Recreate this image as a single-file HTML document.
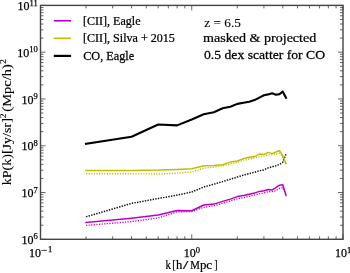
<!DOCTYPE html><html><head><meta charset="utf-8"><style>html,body{margin:0;padding:0;background:#fff;width:350px;height:273px;overflow:hidden}svg{display:block;filter:blur(0.3px)}text{font-family:"Liberation Serif",serif;fill:#000;stroke:#000;stroke-width:0.25px;filter:grayscale(1)}</style></head><body>
<svg width="350" height="273" viewBox="0 0 350 273">
<path d="M40.50,239.3v-5M40.50,5.4v5M86.03,239.3v-3M86.03,5.4v3M112.66,239.3v-3M112.66,5.4v3M131.56,239.3v-3M131.56,5.4v3M146.22,239.3v-3M146.22,5.4v3M158.20,239.3v-3M158.20,5.4v3M168.32,239.3v-3M168.32,5.4v3M177.09,239.3v-3M177.09,5.4v3M184.83,239.3v-3M184.83,5.4v3M191.75,239.3v-5M191.75,5.4v5M237.28,239.3v-3M237.28,5.4v3M263.91,239.3v-3M263.91,5.4v3M282.81,239.3v-3M282.81,5.4v3M297.47,239.3v-3M297.47,5.4v3M309.45,239.3v-3M309.45,5.4v3M319.57,239.3v-3M319.57,5.4v3M328.34,239.3v-3M328.34,5.4v3M336.08,239.3v-3M336.08,5.4v3M343.00,239.3v-5M343.00,5.4v5M40.5,239.30h5M343.0,239.30h-5M40.5,225.22h3M343.0,225.22h-3M40.5,216.98h3M343.0,216.98h-3M40.5,211.14h3M343.0,211.14h-3M40.5,206.60h3M343.0,206.60h-3M40.5,202.90h3M343.0,202.90h-3M40.5,199.77h3M343.0,199.77h-3M40.5,197.05h3M343.0,197.05h-3M40.5,194.66h3M343.0,194.66h-3M40.5,192.52h5M343.0,192.52h-5M40.5,178.44h3M343.0,178.44h-3M40.5,170.20h3M343.0,170.20h-3M40.5,164.36h3M343.0,164.36h-3M40.5,159.82h3M343.0,159.82h-3M40.5,156.12h3M343.0,156.12h-3M40.5,152.99h3M343.0,152.99h-3M40.5,150.27h3M343.0,150.27h-3M40.5,147.88h3M343.0,147.88h-3M40.5,145.74h5M343.0,145.74h-5M40.5,131.66h3M343.0,131.66h-3M40.5,123.42h3M343.0,123.42h-3M40.5,117.58h3M343.0,117.58h-3M40.5,113.04h3M343.0,113.04h-3M40.5,109.34h3M343.0,109.34h-3M40.5,106.21h3M343.0,106.21h-3M40.5,103.49h3M343.0,103.49h-3M40.5,101.10h3M343.0,101.10h-3M40.5,98.96h5M343.0,98.96h-5M40.5,84.88h3M343.0,84.88h-3M40.5,76.64h3M343.0,76.64h-3M40.5,70.80h3M343.0,70.80h-3M40.5,66.26h3M343.0,66.26h-3M40.5,62.56h3M343.0,62.56h-3M40.5,59.43h3M343.0,59.43h-3M40.5,56.71h3M343.0,56.71h-3M40.5,54.32h3M343.0,54.32h-3M40.5,52.18h5M343.0,52.18h-5M40.5,38.10h3M343.0,38.10h-3M40.5,29.86h3M343.0,29.86h-3M40.5,24.02h3M343.0,24.02h-3M40.5,19.48h3M343.0,19.48h-3M40.5,15.78h3M343.0,15.78h-3M40.5,12.65h3M343.0,12.65h-3M40.5,9.93h3M343.0,9.93h-3M40.5,7.54h3M343.0,7.54h-3M40.5,5.40h5M343.0,5.40h-5" stroke="#555" stroke-width="0.9" fill="none"/>
<polyline points="86.03,225.40 131.56,221.60 158.20,218.00 177.09,211.90 191.75,211.50 203.73,207.30 213.85,205.80 222.62,203.30 230.36,201.00 237.28,198.80 243.54,197.70 249.26,196.30 254.51,195.00 259.38,193.80 263.91,192.80 268.15,191.80 272.14,191.60 275.89,190.70 279.44,188.50 282.81,187.60 286.02,194.80" fill="none" stroke="#bf00bf" stroke-width="1.35" stroke-dasharray="1.2 1.4"/>
<polyline points="86.03,173.70 131.56,173.80 158.20,174.00 177.09,173.20 191.75,171.90 203.73,168.20 213.85,167.10 222.62,165.90 230.36,164.00 237.28,162.30 243.54,160.20 249.26,159.00 254.51,158.00 259.38,156.80 263.91,156.00 268.15,155.00 272.14,154.50 275.89,154.20 279.44,153.20 282.81,157.00 286.02,164.00" fill="none" stroke="#bfbf00" stroke-width="1.35" stroke-dasharray="1.2 1.4"/>
<polyline points="86.03,216.80 131.56,203.40 158.20,198.50 177.09,195.10 191.75,192.00 203.73,187.00 213.85,184.20 222.62,181.60 230.36,179.20 237.28,177.00 243.54,175.10 249.26,173.60 254.51,172.30 259.38,170.70 263.91,169.90 268.15,167.90 272.14,166.80 275.89,165.70 279.44,164.40 282.81,162.10 286.02,153.80" fill="none" stroke="#111" stroke-width="1.5" stroke-dasharray="1.4 1.25"/>
<polyline points="86.03,222.50 131.56,218.20 158.20,215.10 177.09,210.60 191.75,210.70 203.73,205.00 213.85,204.10 222.62,201.40 230.36,199.10 237.28,196.60 243.54,195.60 249.26,194.20 254.51,193.10 259.38,191.40 263.91,190.70 268.15,189.60 272.14,189.90 275.89,187.60 279.44,185.20 282.81,184.70 286.02,195.40" fill="none" stroke="#bf00bf" stroke-width="1.5" stroke-linejoin="round" stroke-linecap="square"/>
<polyline points="86.03,170.60 131.56,170.40 158.20,170.10 177.09,169.40 191.75,168.70 203.73,165.80 213.85,165.40 222.62,164.80 230.36,162.10 237.28,161.00 243.54,158.60 249.26,157.20 254.51,156.60 259.38,154.10 263.91,154.60 268.15,152.40 272.14,153.60 275.89,152.00 279.44,150.50 282.81,155.90 286.02,163.50" fill="none" stroke="#bfbf00" stroke-width="1.5" stroke-linejoin="round" stroke-linecap="square"/>
<polyline points="86.03,143.90 131.56,136.70 158.20,124.50 177.09,125.40 191.75,119.50 203.73,114.20 213.85,112.30 222.62,108.30 230.36,106.80 237.28,103.90 243.54,102.80 249.26,101.70 254.51,100.10 259.38,97.60 263.91,95.20 268.15,94.40 272.14,93.20 275.89,94.80 279.44,94.10 282.81,91.70 286.02,97.80" fill="none" stroke="#000" stroke-width="2.1" stroke-linejoin="round" stroke-linecap="square"/>
<rect x="40.5" y="5.4" width="302.5" height="233.9" fill="none" stroke="#444" stroke-width="1.4"/>
<text x="37.8" y="243.90" font-size="12" text-anchor="end">10<tspan font-size="8.5" dy="-4.5">6</tspan></text>
<text x="37.8" y="197.12" font-size="12" text-anchor="end">10<tspan font-size="8.5" dy="-4.5">7</tspan></text>
<text x="37.8" y="150.34" font-size="12" text-anchor="end">10<tspan font-size="8.5" dy="-4.5">8</tspan></text>
<text x="37.8" y="103.56" font-size="12" text-anchor="end">10<tspan font-size="8.5" dy="-4.5">9</tspan></text>
<text x="37.8" y="56.78" font-size="12" text-anchor="end">10<tspan font-size="8.5" dy="-4.5">10</tspan></text>
<text x="37.8" y="10.00" font-size="12" text-anchor="end">10<tspan font-size="8.5" dy="-4.5">11</tspan></text>
<text x="191.75" y="257" font-size="12" text-anchor="middle">10<tspan font-size="8.5" dy="-4.5">0</tspan></text>
<text x="343.00" y="257" font-size="12" text-anchor="middle">10<tspan font-size="8.5" dy="-4.5">1</tspan></text>
<text x="41.1" y="256.8" font-size="12" text-anchor="end">10</text>
<path d="M41.4,250.4H46.9" stroke="#000" stroke-width="0.75"/>
<text x="47.9" y="252.4" font-size="8.5">1</text>
<text transform="translate(83.00,24.8) scale(1.0036,1)" font-size="12">[CII], Eagle</text>
<text transform="translate(82.99,42.4) scale(1.0056,1)" font-size="12">[CII], Silva + 2015</text>
<text transform="translate(83.20,59.9) scale(1.0200,1)" font-size="12">CO, Eagle</text>
<text transform="translate(204.20,26.7) scale(1.0257,1)" font-size="13" style="stroke-width:0.1px">z = 6.5</text>
<text transform="translate(203.12,41.6) scale(1.0816,1)" font-size="13">masked &amp; projected</text>
<text transform="translate(204.00,59.2) scale(1.0522,1)" font-size="13">0.5 dex scatter for CO</text>
<text transform="translate(11.2,185.33) rotate(-90) scale(1.1254,1)" font-size="12.5" style="stroke-width:0.1px">kP(k)[Jy/sr]<tspan font-size="8.5" dy="-4.8">2</tspan></text>
<text transform="translate(11.2,111.70) rotate(-90) scale(1.1644,1)" font-size="12.5" style="stroke-width:0.1px">(Mpc/h)<tspan font-size="8.5" dy="-4.8">2</tspan></text>
<path d="M53.8,20.8H71.1" stroke="#bf00bf" stroke-width="1.6"/>
<path d="M53.8,38.3H71.1" stroke="#bfbf00" stroke-width="1.6"/>
<path d="M53.8,55.9H71.1" stroke="#000" stroke-width="2.2"/>
<text transform="translate(165.42,269.1) scale(0.897,1)" font-size="12" style="stroke-width:0.22px">k</text>
<text transform="translate(172.30,269.1) scale(0.889,1)" font-size="12" style="stroke-width:0.22px">[</text>
<text transform="translate(175.89,269.1) scale(1.053,1)" font-size="12" style="stroke-width:0.22px">h</text>
<text transform="translate(183.10,269.1) scale(1.576,1)" font-size="12" style="stroke-width:0.22px">/</text>
<text transform="translate(190.13,269.1) scale(0.900,1)" font-size="12" style="stroke-width:0.22px">M</text>
<text transform="translate(199.88,269.1) scale(1.075,1)" font-size="12" style="stroke-width:0.22px">p</text>
<text transform="translate(206.36,269.1) scale(1.089,1)" font-size="12" style="stroke-width:0.22px">c</text>
<text transform="translate(214.17,269.1) scale(0.815,1)" font-size="12" style="stroke-width:0.22px">]</text>
</svg></body></html>
